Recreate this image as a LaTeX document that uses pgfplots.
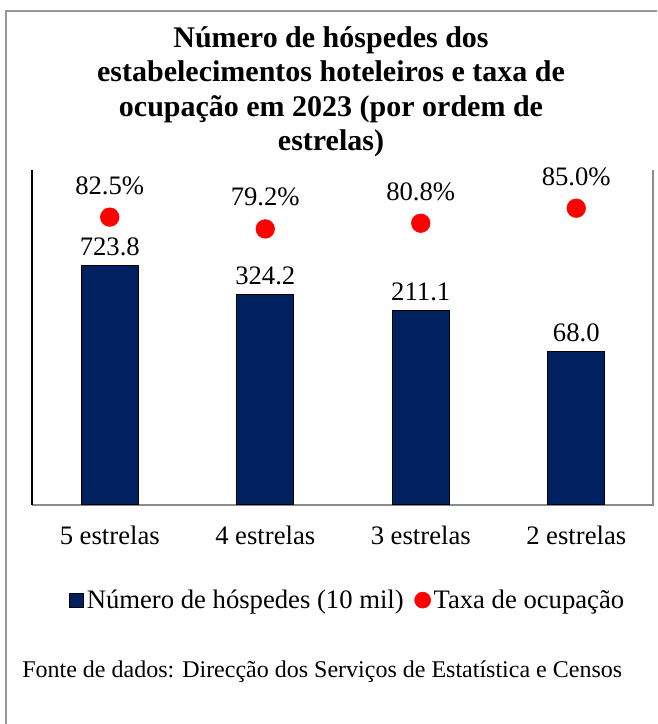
\documentclass[border=0pt]{standalone}
\usepackage{fontspec}
\setmainfont{Liberation Serif}
\usepackage{pgfplots}
\usepackage{pgfplotstable}
\pgfplotsset{compat=1.18}
\definecolor{navy}{RGB}{0,32,96}
\definecolor{framegray}{RGB}{150,150,150}
\definecolor{axisgray}{RGB}{140,140,140}

% numero de hospedes (10 mil), por categoria
\pgfplotstableread{
x y lab
0 723.8 723.8
1 324.2 324.2
2 211.1 211.1
3 68.0 68.0
}\hospedes

% taxa de ocupacao (%)
\pgfplotstableread{
x y
0 82.5
1 79.2
2 80.8
3 85.0
}\taxa

\newcommand{\txt}{\fontsize{20}{24}\selectfont}

\begin{document}
\begin{tikzpicture}[x=0.75pt,y=0.75pt]
\useasboundingbox (0,0) rectangle (657,724);
\draw[framegray, line width=1.2pt] (6,0) -- (6,713) -- (657,713);

\node[font=\fontsize{22.5}{25.9}\selectfont\bfseries, align=center, anchor=north, inner sep=0pt]
  at (331,698) {Número de hóspedes dos\\estabelecimentos hoteleiros e taxa de\\ocupação em 2023 (por ordem de\\estrelas)};

% right-hand (secondary) axis line
\draw[axisgray, line width=1.5pt] (653,219) -- (653,554);

\begin{axis}[
  at={(24pt,164.25pt)}, anchor=south west,
  scale only axis, width=466.5pt, height=251.25pt,
  ybar, bar width=42.75pt,
  xmin=-0.5, xmax=3.5,
  ymode=log, ymin=1, ymax=10000,
  xtick={0,1,2,3},
  xticklabels={5 estrelas,4 estrelas,3 estrelas,2 estrelas},
  ytick=\empty, major tick length=0pt,
  axis x line*=bottom, axis y line*=left,
  x axis line style={-, draw=axisgray, line width=1.2pt},
  y axis line style={-, draw=black, line width=1pt},
  xticklabel style={font=\txt, anchor=base, yshift=-30pt},
  nodes near coords, point meta=explicit symbolic,
  every node near coord/.append style={font=\txt, anchor=base, yshift=7.5pt},
]
\addplot[fill=navy, draw=black, line width=1pt] table[x=x, y=y, meta=lab] {\hospedes};
\end{axis}

\begin{axis}[
  at={(24pt,164.25pt)}, anchor=south west,
  scale only axis, width=466.5pt, height=251.25pt,
  xmin=-0.5, xmax=3.5, ymin=1.9, ymax=95.7,
  axis x line=none, axis y line=none,
  ytick=\empty, major tick length=0pt,
  legend style={at={(0.508,-0.284)}, anchor=center, draw=none, fill=none,
    legend columns=2, font=\txt, nodes={inner sep=2pt},
    /tikz/every even column/.append style={column sep=6pt}},
]
\addlegendimage{legend image code/.code={\draw[fill=navy, draw=black, line width=0.8pt] (0pt,-5.25pt) rectangle (10.5pt,5.25pt);}}
\addlegendentry{Número de hóspedes (10 mil)}
\addplot[only marks, mark=*, mark size=7pt, color=red,
  point meta=y,
  nodes near coords={\pgfmathprintnumber[fixed,fixed zerofill,precision=1,assume math mode=true]{\pgfplotspointmeta}\%},
  every node near coord/.append style={font=\txt, anchor=base, yshift=17.25pt, text=black},
  legend image code/.code={\fill[red] (6pt,0pt) circle (6pt);}]
  table[x=x, y=y] {\taxa};
\addlegendentry{Taxa de ocupação}
\end{axis}

\node[anchor=base west, font=\fontsize{18}{21.6}\selectfont, inner sep=0pt] at (22,46)
  {Fonte de dados: Direcção dos Serviços de Estatística e Censos};
\end{tikzpicture}
\end{document}
